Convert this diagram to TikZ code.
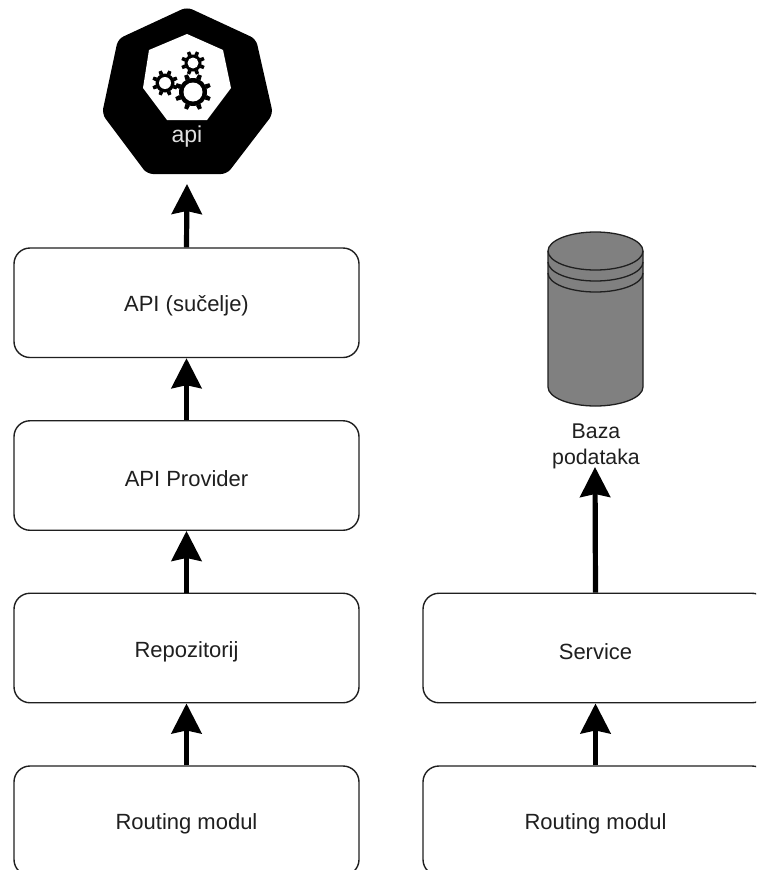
\documentclass[tikz,border=0pt]{standalone}
\usepackage{fontspec}
\setmainfont{Liberation Sans}
\usetikzlibrary{arrows.meta}
\tikzset{
  x=1pt,y=-1pt,
  flowbox/.style={draw=black!88,line width=1.4pt,rounded corners=16pt,fill=white,minimum width=345pt,minimum height=109.5pt,inner sep=0pt,text=black!88},
  boxlabel/.style={font=\fontsize{22pt}{26pt}\selectfont,text=black!88,inner sep=0pt,anchor=center},
  flowarrow/.style={line width=5.2pt,-{Stealth[length=30pt,width=30pt,inset=3pt]},black},
  gearline/.style={black},
  dbline/.style={black!88,line width=1.3pt}
}
\newcommand{\gearicon}[6]{% x y ring-radius tooth-outer hole-radius half-angle
  \foreach \ang in {0,45,...,315}{
    \pgfmathsetmacro{\tooth}{\ang+22.5}
    \fill[gearline] ($(#1,#2)+(\tooth-#6:#3)$) -- ($(#1,#2)+(\tooth-#6*0.6:#4)$) -- ($(#1,#2)+(\tooth+#6*0.6:#4)$) -- ($(#1,#2)+(\tooth+#6:#3)$) -- cycle;
  }
  \fill[gearline] (#1,#2) circle[radius=#3];
  \fill[white] (#1,#2) circle[radius=#5];
}
\usetikzlibrary{calc}
\begin{document}
\begin{tikzpicture}
\clip (0,0) rectangle (756,870);
\fill[white] (0,0) rectangle (756,870);
% API heptagon
\fill[black,rounded corners=6pt] (187,7) -- (256,39) -- (273,114) -- (227,174) -- (147,174) -- (102,114) -- (118,39) -- cycle;
\fill[white] (187,34) -- (223,50) -- (231,88) -- (207,120) -- (167,120) -- (143,88) -- (149,50) -- cycle;
\gearicon{193}{63}{8.5pt}{12pt}{5.5pt}{13}
\gearicon{165}{83}{9.5pt}{13pt}{6pt}{12}
\gearicon{193}{92}{14pt}{18.5pt}{9.5pt}{10}
\node[font=\fontsize{23pt}{26pt}\selectfont,text=black!12,inner sep=0pt] (apilabel) at (187,137) {api};
\coordinate (apiport) at (187,184);
% Database cylinder
\draw[dbline,fill=black!50] (548,251) arc[start angle=180,end angle=360,x radius=47.5,y radius=19] -- (643,387) arc[start angle=0,end angle=180,x radius=47.5,y radius=19] -- cycle;
\draw[dbline] (548,251) arc[start angle=180,end angle=0,x radius=47.5,y radius=19];
\draw[dbline] (548,262) arc[start angle=180,end angle=0,x radius=47.5,y radius=19];
\draw[dbline] (548,273) arc[start angle=180,end angle=0,x radius=47.5,y radius=19];
\node[font=\fontsize{21.3pt}{26pt}\selectfont,text=black!88,align=center,inner sep=0pt] (db) at (596,446) {Baza\\podataka};
\coordinate (dbport) at (595,467);
% Boxes
\node[flowbox] (iface) at (186.5,302.75) {};
\node[boxlabel] (ifacet) at ([yshift=-3.5pt]iface.center) {API (sučelje)};
\node[flowbox] (prov) at (186.5,475.5) {};
\node[boxlabel] (provt) at ([yshift=-3.5pt]prov.center) {API Provider};
\node[flowbox] (repo) at (186.5,648) {};
\node[boxlabel] (repot) at ([yshift=-3.5pt]repo.center) {Repozitorij};
\node[flowbox] (routea) at (186.5,820.75) {};
\node[boxlabel] (routeat) at ([yshift=-3.5pt]routea.center) {Routing modul};
\node[flowbox] (serv) at (595.5,648) {};
\node[boxlabel] (servt) at ([yshift=-3.5pt]serv.center) {Service};
\node[flowbox] (routeb) at (595.5,820.75) {};
\node[boxlabel] (routebt) at ([yshift=-3.5pt]routeb.center) {Routing modul};
% Arrows
\draw[flowarrow] (iface.north) -- (apiport);
\draw[flowarrow] (prov.north) -- (iface.south);
\draw[flowarrow] (repo.north) -- (prov.south);
\draw[flowarrow] (routea.north) -- (repo.south);
\draw[flowarrow] (serv.north) -- (dbport);
\draw[flowarrow] (routeb.north) -- (serv.south);
\end{tikzpicture}
\end{document}
